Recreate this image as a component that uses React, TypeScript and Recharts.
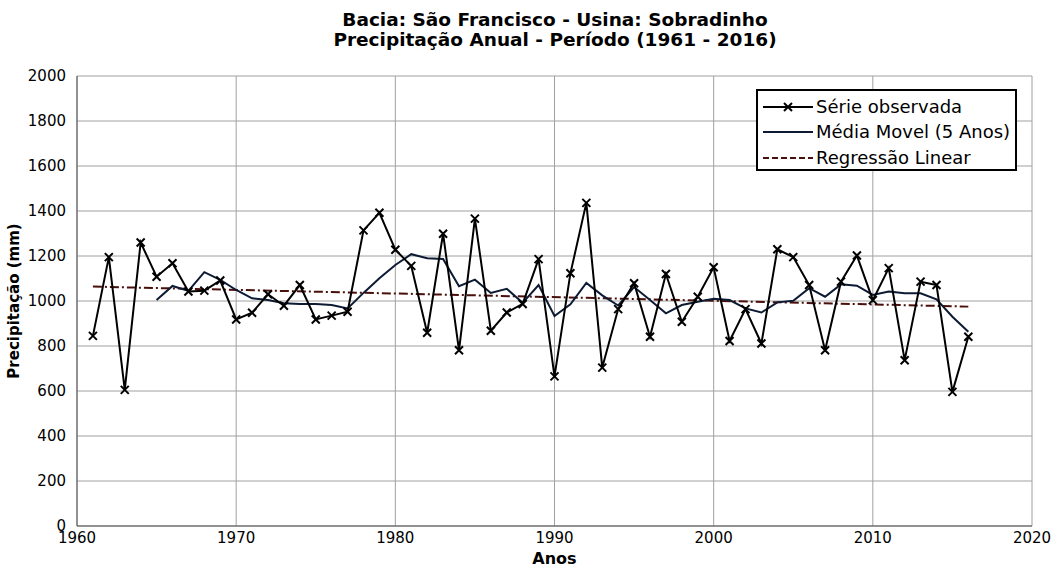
import {
  LineChart,
  Line,
  XAxis,
  YAxis,
  CartesianGrid,
} from 'recharts'

const ANOS = [
  1961, 1962, 1963, 1964, 1965, 1966, 1967, 1968, 1969, 1970,
  1971, 1972, 1973, 1974, 1975, 1976, 1977, 1978, 1979, 1980,
  1981, 1982, 1983, 1984, 1985, 1986, 1987, 1988, 1989, 1990,
  1991, 1992, 1993, 1994, 1995, 1996, 1997, 1998, 1999, 2000,
  2001, 2002, 2003, 2004, 2005, 2006, 2007, 2008, 2009, 2010,
  2011, 2012, 2013, 2014, 2015, 2016,
]

const OBSERVADA = [
  845, 1195, 605, 1260, 1108, 1168, 1042, 1046, 1091, 918,
  948, 1030, 979, 1071, 918, 935, 952, 1314, 1392, 1228,
  1156, 859, 1299, 781, 1366, 868, 949, 987, 1186, 665,
  1123, 1436, 704, 964, 1079, 841, 1120, 908, 1019, 1150,
  822, 964, 811, 1230, 1195, 1071, 781, 1086, 1202, 1004,
  1146, 737, 1086, 1071, 596, 841,
]

// média móvel de 5 anos: só existe a partir de 1965
const MEDIA_MOVEL = [
  null, null, null, null, 1004, 1067, 1045, 1128, 1094, 1049,
  1012, 1004, 990, 987, 987, 982, 967, 1036, 1101, 1160,
  1208, 1190, 1187, 1066, 1095, 1036, 1054, 992, 1071, 933,
  985, 1080, 1025, 980, 1062, 1004, 945, 982, 997, 1010,
  1004, 967, 949, 994, 1001, 1057, 1019, 1074, 1068, 1027,
  1042, 1034, 1034, 1007, 930, 863,
]

// reta de regressão: extremos 1961 e 2016
const REGRESSAO_ANOS = [1961, 2016]
const REGRESSAO_VALORES = [1064, 975]

const TICKS_X = [1960, 1970, 1980, 1990, 2000, 2010, 2020]
const TICKS_Y = [0, 200, 400, 600, 800, 1000, 1200, 1400, 1600, 1800, 2000]

const dados = ANOS.map((ano, i) => {
  const r = REGRESSAO_ANOS.indexOf(ano)
  return {
    ano,
    observada: OBSERVADA[i],
    media: MEDIA_MOVEL[i],
    regressao: r >= 0 ? REGRESSAO_VALORES[r] : null,
  }
})

const FONTE = '"DejaVu Sans", sans-serif'
const COR_MEDIA = '#0d1a33'
const COR_REGRESSAO = '#4a0f0a'

function Xis(props: any) {
  const { cx, cy } = props
  if (cx == null || cy == null) return <g key={props.key} />
  const s = 4
  return (
    <path
      key={props.key}
      d={`M${cx - s},${cy - s}L${cx + s},${cy + s}M${cx - s},${cy + s}L${cx + s},${cy - s}`}
      stroke="#000"
      strokeWidth={2}
    />
  )
}

function Legenda() {
  const item = (amostra: React.ReactNode, texto: string) => (
    <div style={{ display: 'flex', alignItems: 'center', height: 25.5 }}>
      <svg width={50} height={12} style={{ marginRight: 3, flex: 'none' }}>
        {amostra}
      </svg>
      <span style={{ whiteSpace: 'nowrap' }}>{texto}</span>
    </div>
  )
  return (
    <div
      style={{
        position: 'absolute',
        left: 756,
        top: 89,
        width: 261,
        height: 82,
        boxSizing: 'border-box',
        border: '2px solid #000',
        background: '#fff',
        padding: '3px 0 0 5px',
        fontFamily: FONTE,
        fontSize: 18,
        color: '#000',
        lineHeight: 1,
      }}
    >
      {item(
        <>
          <line x1={0} y1={6} x2={50} y2={6} stroke="#000" strokeWidth={2} />
          <path d="M21,2L29,10M21,10L29,2" stroke="#000" strokeWidth={2} />
        </>,
        'Série observada'
      )}
      {item(<line x1={0} y1={6} x2={50} y2={6} stroke={COR_MEDIA} strokeWidth={2} />, 'Média Movel (5 Anos)')}
      {item(
        <line x1={0} y1={6} x2={50} y2={6} stroke={COR_REGRESSAO} strokeWidth={2} strokeDasharray="6 3" />,
        'Regressão Linear'
      )}
    </div>
  )
}

export default function App() {
  return (
    <div style={{ position: 'absolute', left: 0, top: 0, width: 1053, height: 568, background: '#fff' }}>
      <div
        style={{
          position: 'absolute',
          left: 0,
          width: 1110,
          top: 10,
          textAlign: 'center',
          fontFamily: FONTE,
          fontWeight: 'bold',
          fontSize: 18.5,
          lineHeight: '20px',
          color: '#000',
        }}
      >
        <div>Bacia: São Francisco - Usina: Sobradinho</div>
        <div>Precipitação Anual - Período (1961 - 2016)</div>
      </div>
      <LineChart
        width={1053}
        height={568}
        data={dados}
        margin={{ top: 76, right: 21, bottom: 0, left: 0 }}
      >
        <CartesianGrid stroke="#a0a0a0" strokeWidth={1} />
        <XAxis
          dataKey="ano"
          type="number"
          domain={[1960, 2020]}
          ticks={TICKS_X}
          interval={0}
          height={42}
          tickLine={false}
          tickMargin={0}
          stroke="#555"
          tick={{ fill: '#000', fontSize: 15, fontFamily: FONTE }}
          label={{
            value: 'Anos',
            position: 'insideBottom',
            offset: 4,
            style: { fill: '#000', fontSize: 16, fontWeight: 'bold', fontFamily: FONTE },
          }}
        />
        <YAxis
          type="number"
          domain={[0, 2000]}
          ticks={TICKS_Y}
          interval={0}
          width={77}
          tickLine={false}
          tickMargin={5}
          stroke="#555"
          tick={{ fill: '#000', fontSize: 15, fontFamily: FONTE }}
          label={{
            value: 'Precipitação (mm)',
            angle: -90,
            position: 'insideLeft',
            offset: 14,
            style: {
              fill: '#000',
              fontSize: 15,
              fontWeight: 'bold',
              fontFamily: FONTE,
              textAnchor: 'middle',
            },
          }}
        />
        <Line
          dataKey="regressao"
          stroke={COR_REGRESSAO}
          strokeWidth={2}
          strokeDasharray="9 3 2 3"
          dot={false}
          connectNulls
          isAnimationActive={false}
        />
        <Line
          dataKey="media"
          stroke={COR_MEDIA}
          strokeWidth={2}
          dot={false}
          isAnimationActive={false}
        />
        <Line
          dataKey="observada"
          stroke="#000"
          strokeWidth={2}
          dot={Xis}
          isAnimationActive={false}
        />
      </LineChart>
      <Legenda />
    </div>
  )
}
